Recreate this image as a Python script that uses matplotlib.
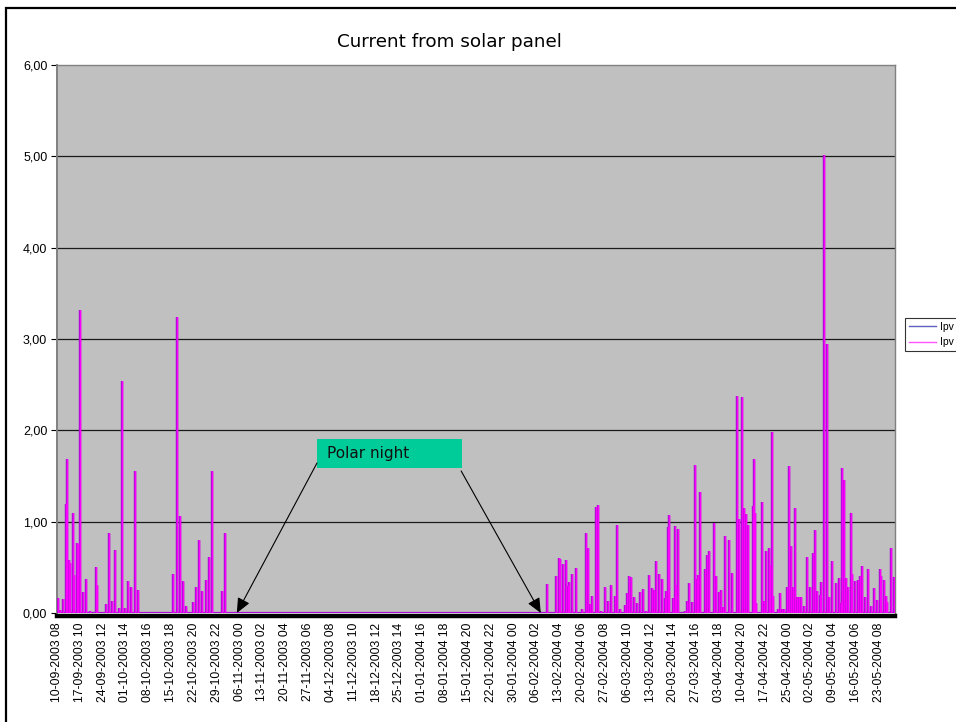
import numpy as np
import matplotlib
matplotlib.use("Agg")
import matplotlib.pyplot as plt
from matplotlib.lines import Line2D
from matplotlib.patches import Rectangle
from matplotlib.ticker import FixedLocator, FuncFormatter

# ---------------- data ----------------
title = "Current from solar panel"
series_names = ["Ipv", "Ipv"]
annotation_text = "Polar night"

tick_labels = [
    "10-09-2003 08", "17-09-2003 10", "24-09-2003 12", "01-10-2003 14",
    "08-10-2003 16", "15-10-2003 18", "22-10-2003 20", "29-10-2003 22",
    "06-11-2003 00", "13-11-2003 02", "20-11-2003 04", "27-11-2003 06",
    "04-12-2003 08", "11-12-2003 10", "18-12-2003 12", "25-12-2003 14",
    "01-01-2004 16", "08-01-2004 18", "15-01-2004 20", "22-01-2004 22",
    "30-01-2004 00", "06-02-2004 02", "13-02-2004 04", "20-02-2004 06",
    "27-02-2004 08", "06-03-2004 10", "13-03-2004 12", "20-03-2004 14",
    "27-03-2004 16", "03-04-2004 18", "10-04-2004 20", "17-04-2004 22",
    "25-04-2004 00", "02-05-2004 02", "09-05-2004 04", "16-05-2004 06",
    "23-05-2004 08",
]
samples_per_label = 170          # hourly samples between category labels
total_samples = 6240             # hourly samples in the record

# spike positions (days since first sample) and peak currents (A)
autumn_day = [0.3, 1.0, 2.0, 2.8, 3.1, 3.8, 4.1, 4.9, 5.3, 6.1, 6.4, 7.0,
              8.2, 9.0, 10.2, 12.0, 12.3, 15.2, 16.1, 17.2, 18.1, 19.1,
              20.2, 21.1, 21.9, 23.0, 24.2, 25.1, 36.0, 37.1, 38.2, 39.1,
              40.0, 42.1, 43.0, 44.1, 45.0, 46.2, 47.1, 48.1, 51.1, 52.0]
autumn_ipv = [0.16, 0.03, 0.15, 1.19, 1.69, 0.58, 0.55, 1.09, 0.42, 0.77,
              0.76, 3.32, 0.23, 0.37, 0.02, 0.50, 0.31, 0.10, 0.88, 0.13,
              0.69, 0.05, 2.54, 0.05, 0.35, 0.28, 1.56, 0.25, 0.43, 3.24,
              1.06, 0.35, 0.08, 0.12, 0.28, 0.80, 0.24, 0.36, 0.61, 1.55,
              0.24, 0.88]

spring_day = [152.1, 154.9, 155.8, 156.1, 157.0, 157.8, 158.6, 159.0, 159.9,
              160.9, 162.8, 164.0, 164.9, 165.5, 166.0, 167.1, 167.7, 168.9,
              170.0, 171.1, 172.0, 173.1, 173.9, 174.8, 176.1, 176.7, 177.4,
              178.0, 179.0, 179.8, 180.1, 181.0, 181.9, 182.8, 183.7, 184.7,
              185.2, 185.9, 186.8, 187.6, 188.7, 189.1, 189.7, 190.0, 191.1,
              191.8, 192.1, 192.6, 194.7, 195.6, 196.2, 197.0, 197.8, 198.7,
              199.0, 199.6, 200.9, 201.7, 202.4, 203.7, 204.6, 205.3, 205.9,
              206.7, 207.4, 208.6, 209.5, 211.0, 211.6, 212.6, 213.0, 213.7,
              214.5, 215.8, 216.1, 216.6, 217.0, 218.6, 219.3, 220.1, 220.9,
              221.3, 221.9, 222.2, 223.6, 224.3, 224.9, 225.6, 226.4, 227.1,
              227.7, 228.2, 229.0, 229.5, 230.1, 230.8, 231.7, 232.6, 233.5,
              234.7, 235.1, 235.8, 236.7, 237.0, 237.9, 238.9, 239.6, 240.3,
              240.6, 241.6, 242.5, 243.1, 243.7, 244.2, 244.8, 245.5, 246.2,
              246.7, 247.6, 248.4, 249.1, 249.7, 250.6, 251.7, 252.5, 253.4,
              254.4, 255.3, 255.7, 256.7, 257.2, 257.6, 258.7, 259.6]
spring_ipv = [0.32, 0.41, 0.60, 0.59, 0.54, 0.58, 0.30, 0.34, 0.43,
              0.49, 0.04, 0.88, 0.71, 0.10, 0.19, 1.16, 1.18, 0.02,
              0.29, 0.13, 0.31, 0.19, 0.96, 0.04, 0.09, 0.22, 0.40,
              0.39, 0.18, 0.11, 0.10, 0.23, 0.26, 0.02, 0.42, 0.27,
              0.25, 0.57, 0.43, 0.37, 0.16, 0.24, 0.94, 1.07, 0.16,
              0.95, 0.31, 0.92, 0.02, 0.13, 0.33, 0.12, 1.62, 0.37,
              0.42, 1.33, 0.48, 0.64, 0.68, 0.99, 0.41, 0.23, 0.25,
              0.07, 0.84, 0.80, 0.44, 2.38, 1.03, 2.36, 1.15, 1.08,
              0.96, 1.17, 1.69, 1.09, 0.11, 1.22, 0.13, 0.68, 0.71,
              0.53, 1.98, 0.19, 0.04, 0.22, 0.04, 0.04, 0.29, 1.61,
              0.73, 0.29, 1.15, 0.17, 0.17, 0.17, 0.08, 0.61, 0.29,
              0.66, 0.91, 0.24, 0.20, 0.34, 5.02, 2.95, 0.17, 0.57,
              0.32, 0.33, 0.38, 0.11, 1.59, 1.46, 0.38, 0.29, 1.10,
              0.43, 0.35, 0.36, 0.41, 0.51, 0.17, 0.48, 0.08, 0.27,
              0.14, 0.48, 0.41, 0.36, 0.19, 0.12, 0.71, 0.39]

polar_night_days = [55.8, 150.1]   # last / first day with sun
y_ticks = [0, 1, 2, 3, 4, 5, 6]

# ---------------- figure ----------------
W, H = 956, 722
fig = plt.figure(figsize=(W / 100, H / 100), dpi=100)
fig.patch.set_facecolor("white")

# outer chart border (cropped at right/bottom in the reference)
fig.patches.append(Rectangle((6 / W, -0.5), 2.0, 1.5 - 8 / H,
                             transform=fig.transFigure, fill=False,
                             edgecolor="black", linewidth=1.6))

ax = fig.add_axes([57 / W, 1 - 613 / H, 838 / W, 548 / H])
ax.set_facecolor("#C0C0C0")

days = np.array(autumn_day + spring_day)
ipv = np.array(autumn_ipv + spring_ipv)
x = days * 24.0
xs = np.repeat(x, 3)
ys = np.column_stack([np.zeros_like(ipv), ipv, np.zeros_like(ipv)]).ravel()

magenta = "#FF00FF"
ax.plot(xs, ys, color="#A010D0", lw=1.6, solid_joinstyle="miter", zorder=3)
ax.plot(xs, ys, color=magenta, lw=0.9, solid_joinstyle="miter", zorder=4)

ax.set_xlim(0, total_samples)
ax.set_ylim(0, 6)

# gridlines
for yv in y_ticks[1:-1]:
    ax.axhline(yv, color="#1a1a1a", lw=0.9, zorder=1)

# axes styling
for side in ["left", "top", "right"]:
    ax.spines[side].set_color("#808080")
    ax.spines[side].set_linewidth(1.0)
ax.spines["left"].set_linewidth(1.4)
ax.spines["bottom"].set_color("black")
ax.spines["bottom"].set_linewidth(3.2)
ax.spines["bottom"].set_position(("outward", 2))
ax.spines["bottom"].set_zorder(5)

ax.yaxis.set_major_locator(FixedLocator(y_ticks))
ax.yaxis.set_major_formatter(FuncFormatter(lambda v, _: f"{v:.2f}".replace(".", ",")))
ax.tick_params(axis="y", direction="out", length=4, width=0.8, color="black",
               labelsize=9, pad=3)
for lab in ax.get_yticklabels():
    lab.set_fontfamily("Liberation Sans")

tick_pos = [i * samples_per_label for i in range(len(tick_labels))]
ax.set_xticks(tick_pos)
ax.set_xticklabels(tick_labels, rotation=90, fontsize=8.8,
                   fontfamily="Liberation Sans")
ax.tick_params(axis="x", length=0, pad=5)

# title
fig.text(449 / W, 1 - 42 / H, title, ha="center", va="center",
         fontsize=13.2, fontfamily="DejaVu Sans")

# annotation box
box_l, box_r = (317 - 57) / 838, (462 - 57) / 838
box_t, box_b = (613 - 439) / 548, (613 - 468) / 548
ax.add_patch(Rectangle((box_l, box_b), box_r - box_l, box_t - box_b,
                       transform=ax.transAxes, facecolor="#00CC99",
                       edgecolor="none", zorder=6))
ax.text((327 - 57) / 838, (box_t + box_b) / 2, annotation_text,
        transform=ax.transAxes, ha="left", va="center", fontsize=11,
        fontfamily="DejaVu Sans", color="#111111", zorder=7)

arrow_kw = dict(arrowstyle="-|>,head_length=0.9,head_width=0.4",
                color="black", lw=0.8, shrinkA=0, shrinkB=0)
ax.annotate("", xy=(polar_night_days[0] * 24, 0), xycoords="data",
            xytext=(box_l, (613 - 463) / 548), textcoords="axes fraction",
            arrowprops=arrow_kw, zorder=8, annotation_clip=False)
ax.annotate("", xy=(polar_night_days[1] * 24, 0), xycoords="data",
            xytext=(box_r - 0.001, (613 - 471) / 548), textcoords="axes fraction",
            arrowprops=arrow_kw, zorder=8, annotation_clip=False)

# legend
handles = [Line2D([], [], color="#6060C0", lw=1.0),
           Line2D([], [], color="#FF55FF", lw=1.0)]
leg = fig.legend(handles, series_names, loc="upper left",
                 bbox_to_anchor=(905 / W, 1 - 318 / H),
                 bbox_transform=fig.transFigure, frameon=True, fancybox=False,
                 prop={"family": "Liberation Sans", "size": 7.5},
                 handlelength=2.6, handletextpad=0.4, borderpad=0.35,
                 labelspacing=0.55, borderaxespad=0)
leg.get_frame().set_edgecolor("black")
leg.get_frame().set_linewidth(0.8)

fig.savefig("out.png", dpi=100)
